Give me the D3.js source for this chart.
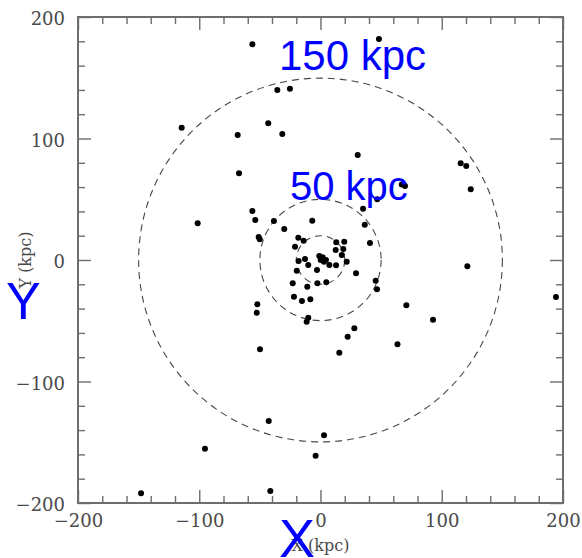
<!DOCTYPE html>
<html>
<head>
<meta charset="utf-8">
<script src="https://cdn.jsdelivr.net/npm/d3@7"></script>
<style>
  html, body { margin: 0; padding: 0; background: #fff; }
  svg { display: block; }
</style>
</head>
<body>
<svg id="chart" width="582" height="558"></svg>
<script>
// Satellite positions projected on the X–Y plane (kpc)
const satX = [
  -56.2, 48.2, -114.5, -35.6, -25.2, -43.1, -68.3, -31.5, 30.7, -67.2,
  115.6, 120.2, 123.9, 67.0, 69.7, 46.8, 121.1, 194.2, 70.8, 92.8,
  63.5, -95.3, -42.7, 2.9, -4.0, -41.4, -148.0, -101.3, -56.2, -53.8,
  -38.4, -6.8, 35.1, 36.5, -29.9, -51.0, -50.1, -18.3, -13.9, -21.0,
  13.0, 19.6, 12.5, 18.8, 40.8, 17.5, 21.6, -18.0, -12.8, -10.1,
  -2.9, 7.3, 12.8, 29.3, -19.6, -22.9, -10.9, -2.6, 4.8, 45.5,
  46.6, -21.9, -15.3, -8.4, -52.1, -52.6, -10.1, -11.4, 27.9, 22.4,
  -49.9, 15.5, -1.0, 1.8, 4.5, 0.2, 2.9
];
const satY = [
  177.5, 181.9, 108.9, 139.9, 141.0, 112.5, 102.9, 103.7, 86.4, 71.4,
  79.6, 77.4, 58.2, 62.1, 60.9, 50.0, -5.2, -30.5, -37.3, -49.1,
  -69.4, -155.3, -132.5, -144.3, -161.1, -190.1, -192.0, 30.2, 40.3, 32.9,
  32.1, 32.3, 42.2, 29.1, 25.5, 18.9, 17.0, 18.4, 15.9, 10.9,
  14.6, 15.1, 8.2, 9.1, 14.0, 4.1, -1.4, -0.8, 0.8, -4.1,
  -8.2, -4.1, -4.4, -10.9, -8.8, -19.2, -22.0, -19.2, -18.4, -17.0,
  -24.1, -30.2, -33.7, -32.3, -36.5, -43.4, -47.5, -50.8, -56.2, -63.1,
  -73.5, -76.3, 3.3, 2.2, 0.0, 0.0, -1.4
];

// Reference radii (kpc)
const ringRadii = [150, 50, 20];

// Axis ticks
const majorTicks = [-200, -100, 0, 100, 200];
const minorTicks = d3.range(-200, 201, 20).filter(v => v % 100 !== 0);

// Annotations
const ringLabels = [
  { text: "150 kpc", x: 279, y: 70, size: 42 },
  { text: "50 kpc", x: 290, y: 200, size: 40 }
];

const svg = d3.select("#chart");
const plotLeft = 78, plotRight = 563, plotTop = 17, plotBottom = 503;

const x = d3.scaleLinear().domain([-200, 200]).range([plotLeft, plotRight]);
const y = d3.scaleLinear().domain([-200, 200]).range([plotBottom, plotTop]);

const axisColor = "#6e6e6e";
const labelFont = "'DejaVu Serif', serif";
const fmt = d => d < 0 ? "\u2212" + Math.abs(d) : String(d);

function styleAxis(g) {
  g.select(".domain").remove();
  g.selectAll(".tick line").attr("stroke", axisColor).attr("stroke-width", 1.4);
  g.selectAll(".tick text")
    .attr("fill", "#4a4a4a")
    .style("font-family", labelFont)
    .style("font-size", "18px");
}

// Major + minor ticks, pointing inward on every side
svg.append("g").attr("transform", `translate(0,${plotBottom})`)
  .call(d3.axisBottom(x).tickValues(majorTicks).tickSize(-13).tickPadding(11).tickFormat(fmt))
  .call(styleAxis);
svg.append("g").attr("transform", `translate(0,${plotBottom})`)
  .call(d3.axisBottom(x).tickValues(minorTicks).tickSize(-7).tickFormat(""))
  .call(styleAxis);

svg.append("g").attr("transform", `translate(${plotLeft},0)`)
  .call(d3.axisLeft(y).tickValues(majorTicks).tickSize(-13).tickPadding(13).tickFormat(fmt))
  .call(styleAxis)
  .call(g => g.selectAll(".tick text").attr("dy", "0.42em"));
svg.append("g").attr("transform", `translate(${plotLeft},0)`)
  .call(d3.axisLeft(y).tickValues(minorTicks).tickSize(-7).tickFormat(""))
  .call(styleAxis);

svg.append("g").attr("transform", `translate(0,${plotTop})`)
  .call(d3.axisTop(x).tickValues(majorTicks).tickSize(-13).tickFormat(""))
  .call(styleAxis);
svg.append("g").attr("transform", `translate(0,${plotTop})`)
  .call(d3.axisTop(x).tickValues(minorTicks).tickSize(-7).tickFormat(""))
  .call(styleAxis);

svg.append("g").attr("transform", `translate(${plotRight},0)`)
  .call(d3.axisRight(y).tickValues(majorTicks).tickSize(-13).tickFormat(""))
  .call(styleAxis);
svg.append("g").attr("transform", `translate(${plotRight},0)`)
  .call(d3.axisRight(y).tickValues(minorTicks).tickSize(-7).tickFormat(""))
  .call(styleAxis);

// Frame
svg.append("rect")
  .attr("x", plotLeft).attr("y", plotTop)
  .attr("width", plotRight - plotLeft).attr("height", plotBottom - plotTop)
  .attr("fill", "none").attr("stroke", axisColor).attr("stroke-width", 2);

// Dashed reference circles
const kpcPx = x(1) - x(0);
svg.append("g").selectAll("circle")
  .data(ringRadii)
  .join("circle")
  .attr("cx", x(0)).attr("cy", y(0))
  .attr("r", d => d * kpcPx)
  .attr("fill", "none")
  .attr("stroke", "#474747")
  .attr("stroke-width", 1.1)
  .attr("stroke-dasharray", "7,5");

// Satellites
svg.append("g").selectAll("circle")
  .data(d3.zip(satX, satY))
  .join("circle")
  .attr("cx", d => x(d[0]))
  .attr("cy", d => y(d[1]))
  .attr("r", 3)
  .attr("fill", "#000");

// Axis titles
svg.append("text")
  .attr("x", (plotLeft + plotRight) / 2).attr("y", 551)
  .attr("text-anchor", "middle")
  .attr("fill", "#4a4a4a")
  .style("font-family", labelFont).style("font-size", "16px")
  .text("X (kpc)");

svg.append("text")
  .attr("transform", `translate(31,${(plotTop + plotBottom) / 2}) rotate(-90)`)
  .attr("text-anchor", "middle")
  .attr("fill", "#4a4a4a")
  .style("font-family", labelFont).style("font-size", "16px")
  .text("Y (kpc)");

// Large blue annotations
const blueFont = "'Liberation Sans', Arial, sans-serif";
svg.append("g").selectAll("text")
  .data(ringLabels)
  .join("text")
  .attr("x", d => d.x).attr("y", d => d.y)
  .attr("fill", "#0000ff")
  .style("font-family", blueFont)
  .style("font-size", d => d.size + "px")
  .text(d => d.text);

svg.append("text")
  .attr("x", 279).attr("y", 557)
  .attr("fill", "#0000ff")
  .style("font-family", blueFont).style("font-size", "54px")
  .text("X");

svg.append("text")
  .attr("x", 6).attr("y", 319)
  .attr("fill", "#0000ff")
  .style("font-family", blueFont).style("font-size", "52px")
  .text("Y");
</script>
</body>
</html>
